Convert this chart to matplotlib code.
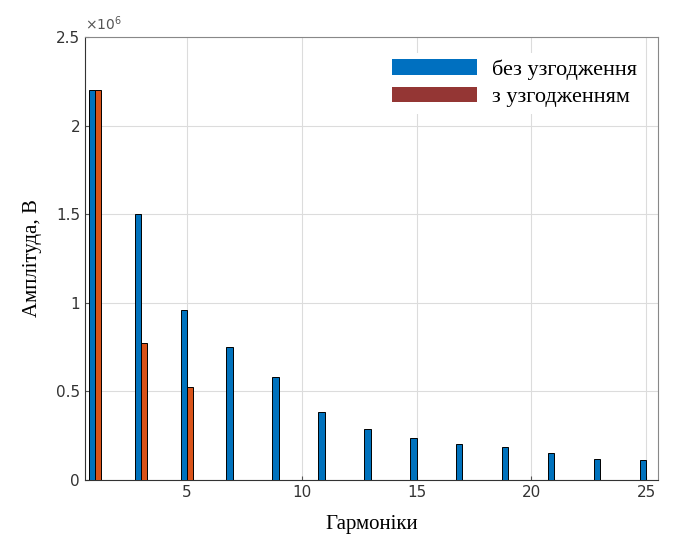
import numpy as np
import matplotlib.pyplot as plt
from matplotlib.ticker import FuncFormatter
from matplotlib.patches import Patch

# harmonic numbers and amplitudes (in volts)
harmonics = list(range(1, 26))
no_match = [2.20, 0, 1.50, 0, 0.96, 0, 0.75, 0, 0.58, 0, 0.385, 0, 0.29, 0,
            0.238, 0, 0.203, 0, 0.183, 0, 0.152, 0, 0.118, 0, 0.115]
with_match = [2.20, 0, 0.775, 0, 0.525, 0, 0, 0, 0, 0, 0, 0, 0, 0,
              0, 0, 0, 0, 0, 0, 0, 0, 0, 0, 0]
series_labels = ["без узгодження", "з узгодженням"]
xlabel = "Гармоніки"
ylabel = "Амплітуда, В"

x = np.array(harmonics)
y1 = np.array(no_match) * 1e6
y2 = np.array(with_match) * 1e6

fig = plt.figure(figsize=(6.74, 5.38), dpi=100)
ax = fig.add_axes([0.126, 0.108, 0.85, 0.823])

w = 0.27
ax.bar(x - w / 2, y1, width=w, color="#0072BD", edgecolor="black", linewidth=0.7, zorder=3)
ax.bar(x + w / 2, y2, width=w, color="#D95319", edgecolor="black", linewidth=0.7, zorder=3)

ax.set_xlim(0.57, 25.5)
ax.set_ylim(0, 2.5e6)
ax.set_xticks([5, 10, 15, 20, 25])
ax.set_yticks(np.arange(0, 2.51e6, 0.5e6))

# MATLAB-style labels: 0, 0.5, 1 ... with the exponent written at the top
ax.yaxis.set_major_formatter(FuncFormatter(lambda v, p: f"{v / 1e6:g}"))
ax.text(0.0, 1.01, r"$\times10^{6}$", transform=ax.transAxes, fontsize=10,
        color="#555555", ha="left", va="bottom")

ax.grid(True, color="#dcdcdc", linewidth=0.8, zorder=0)
ax.tick_params(direction="in", length=3, labelsize=11, colors="#555555",
               labelcolor="#333333")
for s in ax.spines.values():
    s.set_color("#888888")
    s.set_linewidth(0.8)
ax.spines["bottom"].set_color("#333333")
ax.spines["left"].set_color("#333333")

ax.set_xlabel(xlabel, fontfamily="Liberation Serif", fontsize=15, labelpad=11)
ax.set_ylabel(ylabel, fontfamily="Liberation Serif", fontsize=15, labelpad=10)

# legend patches in the colours used by the report's legend
handles = [Patch(facecolor="#0070C0", edgecolor="none"),
           Patch(facecolor="#943634", edgecolor="none")]
leg = ax.legend(handles, series_labels, loc="upper right",
                bbox_to_anchor=(0.995, 0.99), frameon=True, fancybox=False,
                handlelength=3.8, handleheight=0.7, handletextpad=0.7,
                labelspacing=0.3, borderpad=0.3,
                prop={"family": "Liberation Serif", "size": 16})
leg.get_frame().set_edgecolor("none")
leg.get_frame().set_facecolor("white")
leg.get_frame().set_alpha(1)

fig.savefig("out.png", dpi=100)
